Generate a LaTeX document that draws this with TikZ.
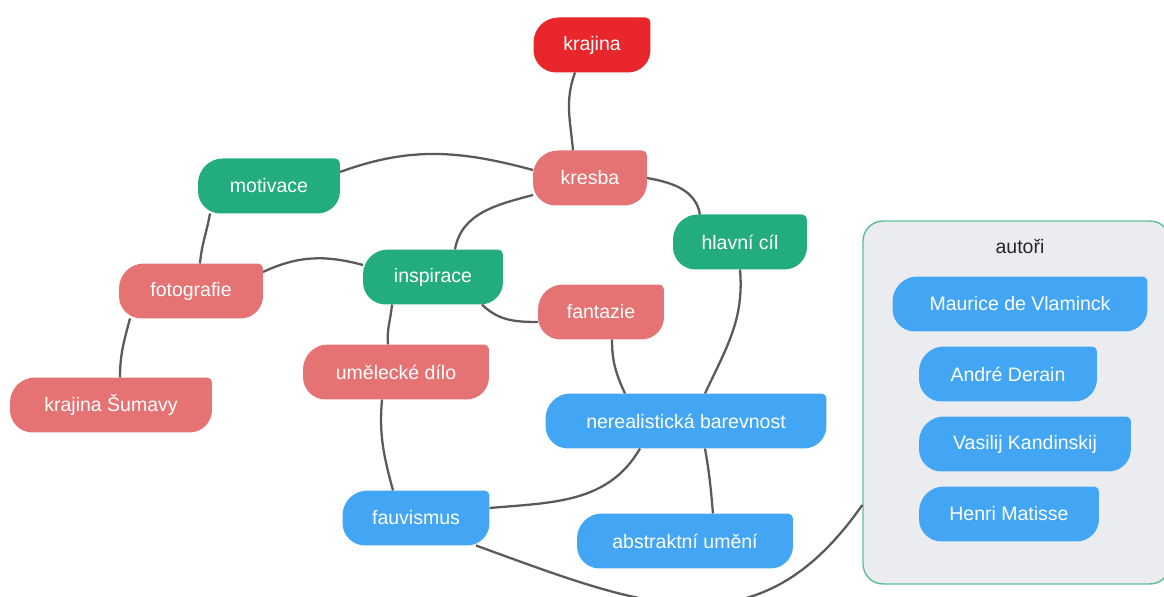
\documentclass[tikz,border=0pt]{standalone}
\usepackage{fontspec}
\setmainfont{Liberation Sans}
\pgfdeclarelayer{edgelayer}
\pgfdeclarelayer{blocklayer}
\pgfsetlayers{edgelayer,blocklayer,main}

\begin{document}
\begin{tikzpicture}[x=0.02cm, y=0.02cm,
    blob/.style={text=white, font=\fontsize{11.1}{13}\selectfont,
        inner sep=0pt, outer sep=0pt, minimum height=1.1cm,
        append after command={\pgfextra{\begin{pgfonlayer}{blocklayer}
            \fill[#1] ([xshift=0.5cm]\tikzlastnode.north west)
                -- ([xshift=-0.1cm]\tikzlastnode.north east)
                arc[start angle=90, end angle=0, radius=0.1cm]
                -- ([yshift=0.45cm]\tikzlastnode.south east)
                arc[start angle=0, end angle=-90, radius=0.45cm]
                -- ([xshift=0.45cm]\tikzlastnode.south west)
                arc[start angle=270, end angle=180, radius=0.45cm]
                -- ([yshift=-0.5cm]\tikzlastnode.north west)
                arc[start angle=180, end angle=90, radius=0.5cm] -- cycle;
            \end{pgfonlayer}}}},
    link/.style={draw=clink, line width=1.3pt},
    groupbox/.style={draw=cgroupline, fill=cgroupfill, rounded corners=0.4cm, line width=0.8pt}]

    % Define colors
    \definecolor{cred}{RGB}{232,38,43}
    \definecolor{cpink}{RGB}{229,115,115}
    \definecolor{cgreen}{RGB}{35,173,126}
    \definecolor{cblue}{RGB}{67,166,245}
    \definecolor{clink}{RGB}{90,90,90}
    \definecolor{cgroupline}{RGB}{93,190,150}
    \definecolor{cgroupfill}{RGB}{235,236,240}

    \useasboundingbox (0,0) rectangle (1164,-597);

    % Concept nodes
    \node[blob=cred, minimum width=2.34cm] (kraj) at (592,-45) {krajina};
    \node[blob=cpink, minimum width=2.28cm] (kresba) at (590,-178) {kresba};
    \node[blob=cgreen, minimum width=2.84cm] (motiv) at (269,-186) {motivace};
    \node[blob=cgreen, minimum width=2.68cm] (cil) at (740,-242) {hlavní cíl};
    \node[blob=cgreen, minimum width=2.8cm] (insp) at (433,-277) {inspirace};
    \node[blob=cpink, minimum width=2.88cm] (foto) at (191,-291) {fotografie};
    \node[blob=cpink, minimum width=2.52cm] (fant) at (601,-312) {fantazie};
    \node[blob=cpink, minimum width=3.72cm] (dilo) at (396,-372) {umělecké dílo};
    \node[blob=cpink, minimum width=4.04cm] (sumava) at (111,-405) {krajina Šumavy};
    \node[blob=cblue, minimum width=5.62cm] (barva) at (686,-421) {nerealistická barevnost};
    \node[blob=cblue, minimum width=2.94cm] (fauv) at (416,-518) {fauvismus};
    \node[blob=cblue, minimum width=4.32cm] (abstr) at (685,-541) {abstraktní umění};

    % Group of authors
    \begin{pgfonlayer}{edgelayer}
        \node[groupbox, minimum width=6.14cm, minimum height=7.26cm] (autori) at (1016.5,-402.5) {};
    \end{pgfonlayer}
    \node[font=\fontsize{11.1}{13}\selectfont, text=black!85] (autoriTitle) at (1020,-247) {autoři};
    \node[blob=cblue, minimum width=5.1cm] (vlam) at (1020,-304) {Maurice de Vlaminck};
    \node[blob=cblue, minimum width=3.56cm] (derain) at (1008,-374) {André Derain};
    \node[blob=cblue, minimum width=4.24cm] (kand) at (1025,-444) {Vasilij Kandinskij};
    \node[blob=cblue, minimum width=3.6cm] (matisse) at (1009,-514) {Henri Matisse};

    % Links
    \begin{pgfonlayer}{edgelayer}
        \draw[link] ([xshift=-0.34cm]kraj.south) to[out=250,in=95] ([xshift=-0.34cm]kresba.north);
        \draw[link] ([yshift=0.16cm]kresba.west) to[out=165,in=20] ([yshift=0.28cm]motiv.east);
        \draw[link] ([yshift=-0.34cm]kresba.west) to[out=195,in=80] ([xshift=0.44cm]insp.north);
        \draw[link] (kresba.east) to[out=-10,in=100] ([xshift=-0.8cm]cil.north);
        \draw[link] ([xshift=-1.18cm]motiv.south) to[out=260,in=85] ([xshift=0.18cm]foto.north);
        \draw[link] ([yshift=0.38cm]foto.east) to[out=25,in=165] ([yshift=0.24cm]insp.west);
        \draw[link] ([xshift=-1.22cm]foto.south) to[out=255,in=90] ([xshift=0.18cm]sumava.north);
        \draw[link] ([xshift=0.98cm]insp.south) to[out=-45,in=180] ([yshift=-0.2cm]fant.west);
        \draw[link] ([xshift=-0.82cm]insp.south) to[out=265,in=95] ([xshift=-0.16cm]dilo.north);
        \draw[link] ([xshift=-0.28cm]dilo.south) to[out=265,in=105] ([xshift=-0.46cm]fauv.north);
        \draw[link] ([xshift=0.22cm]fant.south) to[out=270,in=115] ([xshift=-1.22cm]barva.north);
        \draw[link] (cil.south) to[out=275,in=65] ([xshift=0.38cm]barva.north);
        \draw[link] ([xshift=-0.92cm]barva.south) to[out=240,in=5] ([yshift=0.2cm]fauv.east);
        \draw[link] ([xshift=0.38cm]barva.south) to[out=280,in=95] ([xshift=0.56cm]abstr.north);
        \draw[link] ([xshift=1.2cm]fauv.south) to[out=-20,in=235,looseness=1.2] ([yshift=-2.05cm]autori.west);
    \end{pgfonlayer}

\end{tikzpicture}
\end{document}
